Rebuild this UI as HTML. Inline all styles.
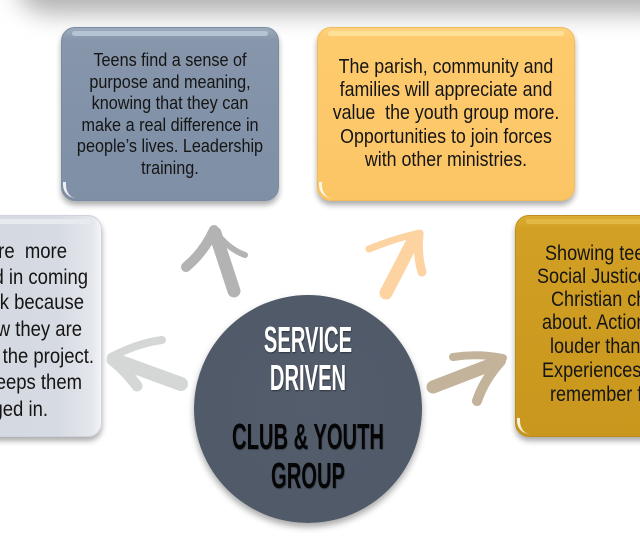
<!DOCTYPE html>
<html>
<head>
<meta charset="utf-8">
<style>
  html,body{margin:0;padding:0;}
  body{width:640px;height:540px;position:relative;overflow:hidden;background:#fff;font-family:"Liberation Sans",sans-serif;}
  .abs{position:absolute;}
  .box{position:absolute;border-radius:14px;box-shadow:0 4px 6px rgba(0,0,0,0.33);overflow:hidden;}
  .hl{position:absolute;height:5px;border-radius:3px;}
  .glint{position:absolute;width:10px;height:16px;border-left:3px solid rgba(255,255,255,0.85);border-radius:0 0 0 14px;}
  .ln{position:absolute;white-space:nowrap;color:#151515;}
  .c{text-align:center;transform-origin:50% 50%;}
  .r{text-align:right;transform-origin:100% 50%;}
  .l{text-align:left;transform-origin:0 50%;}
  .ct{position:absolute;left:108px;width:400px;text-align:center;white-space:nowrap;font-weight:bold;font-size:36px;line-height:40px;transform:scaleX(0.56);transform-origin:50% 50%;}
</style>
</head>
<body>

<!-- top shadow band -->
<div class="abs" style="left:16px;top:-52px;width:680px;height:66px;border-radius:34px;background:#b4b4b4;filter:blur(12px);"></div>

<!-- Box 1 (slate) -->
<div class="box" style="left:61px;top:27px;width:218px;height:174px;background:linear-gradient(to bottom,#9eacbe 0%,#8796ab 7%,#8292a8 50%,#7f8fa5 100%);border:1px solid #7a8aa0;box-sizing:border-box;">
  <div class="hl" style="left:10px;right:10px;top:3px;background:#b6c3d2;"></div>
  <div class="glint" style="left:1px;bottom:2px;"></div>
</div>

<!-- Box 2 (light orange) -->
<div class="box" style="left:317px;top:27px;width:258px;height:174px;background:linear-gradient(to bottom,#fed27f 0%,#fdca6c 7%,#fdc86a 60%,#fbc564 100%);border:1px solid #f2bb5c;box-sizing:border-box;">
  <div class="hl" style="left:10px;right:10px;top:3px;background:#ffe097;"></div>
  <div class="glint" style="left:1px;bottom:2px;"></div>
</div>

<!-- Left box (light gray) -->
<div class="box" style="left:-120px;top:215px;width:222px;height:222px;background:linear-gradient(to right,#d2d6df 0%,#d6dae2 80%,#e4e7ec 96%,#f3f4f6 100%);border:1px solid #cfd3db;box-sizing:border-box;">
  <div class="hl" style="left:10px;right:10px;top:3px;background:#e7eaef;"></div>
</div>

<!-- Right box (gold) -->
<div class="box" style="left:515px;top:215px;width:220px;height:222px;background:linear-gradient(to bottom,#dcad34 0%,#d1a024 6%,#cd9b20 50%,#c9971d 100%);border:1px solid #c08e18;box-sizing:border-box;">
  <div class="hl" style="left:10px;right:10px;top:3px;background:#e3b946;"></div>
  <div class="glint" style="left:1px;bottom:2px;"></div>
</div>

<!-- Box 1 text -->
<div style="font-size:18px;line-height:22px;">
  <div class="ln c" style="left:-30px;width:400px;top:49px;transform:scaleX(0.9);">Teens find a sense of</div>
  <div class="ln c" style="left:-30px;width:400px;top:70.5px;transform:scaleX(0.9);">purpose and meaning,</div>
  <div class="ln c" style="left:-30px;width:400px;top:92px;transform:scaleX(0.9);">knowing that they can</div>
  <div class="ln c" style="left:-30px;width:400px;top:113.5px;transform:scaleX(0.9);">make a real difference in</div>
  <div class="ln c" style="left:-30px;width:400px;top:135px;transform:scaleX(0.9);">people’s lives. Leadership</div>
  <div class="ln c" style="left:-30px;width:400px;top:156.5px;transform:scaleX(0.9);">training.</div>
</div>

<!-- Box 2 text -->
<div style="font-size:20px;line-height:24px;">
  <div class="ln c" style="left:246px;width:400px;top:55px;transform:scaleX(0.89);">The parish, community and</div>
  <div class="ln c" style="left:246px;width:400px;top:78px;transform:scaleX(0.89);">families will appreciate and</div>
  <div class="ln c" style="left:246px;width:400px;top:101px;transform:scaleX(0.89);">value&nbsp; the youth group more.</div>
  <div class="ln c" style="left:246px;width:400px;top:125px;transform:scaleX(0.89);">Opportunities to join forces</div>
  <div class="ln c" style="left:246px;width:400px;top:148px;transform:scaleX(0.89);">with other ministries.</div>
</div>

<!-- Left box text (clipped by viewport) -->
<div style="font-size:21px;line-height:26px;">
  <div class="ln r" style="left:-333px;width:400px;top:239px;transform:scaleX(0.88);">Teens are&nbsp; more</div>
  <div class="ln r" style="left:-312px;width:400px;top:265px;transform:scaleX(0.88);">involved in coming</div>
  <div class="ln r" style="left:-316px;width:400px;top:290px;transform:scaleX(0.88);">each week because</div>
  <div class="ln r" style="left:-318px;width:400px;top:317px;transform:scaleX(0.88);">they know they are</div>
  <div class="ln r" style="left:-306px;width:400px;top:344px;transform:scaleX(0.88);">part of the project.</div>
  <div class="ln r" style="left:-318px;width:400px;top:370px;transform:scaleX(0.88);">It keeps them</div>
  <div class="ln r" style="left:-352px;width:400px;top:397px;transform:scaleX(0.88);">engaged in.</div>
</div>

<!-- Right box text (clipped by viewport) -->
<div style="font-size:21px;line-height:24px;">
  <div class="ln l" style="left:545px;width:400px;top:242px;transform:scaleX(0.86);">Showing teens that</div>
  <div class="ln l" style="left:537px;width:400px;top:265px;transform:scaleX(0.86);">Social Justice is what</div>
  <div class="ln l" style="left:551px;width:400px;top:288px;transform:scaleX(0.86);">Christian charity is</div>
  <div class="ln l" style="left:542px;width:400px;top:311px;transform:scaleX(0.86);">about. Actions speak</div>
  <div class="ln l" style="left:550px;width:400px;top:335px;transform:scaleX(0.86);">louder than words.</div>
  <div class="ln l" style="left:542px;width:400px;top:359px;transform:scaleX(0.86);">Experiences they will</div>
  <div class="ln l" style="left:550px;width:400px;top:383px;transform:scaleX(0.86);">remember forever.</div>
</div>

<!-- Arrows -->
<svg class="abs" style="left:0;top:0;" width="640" height="540" viewBox="0 0 640 540">
  <g fill="none" stroke-linecap="round" stroke-linejoin="round">
    <!-- up gray -->
    <g stroke="#b3b3b3">
      <path d="M234,291 L215,233" stroke-width="13"/>
      <path d="M214,230 Q204,252 186,267" stroke-width="10"/>
      <path d="M214,230 Q228,249 245,255" stroke-width="6"/>
    </g>
    <!-- up-right peach -->
    <g stroke="#fdd3a1">
      <path d="M386,293 L413,241" stroke-width="13"/>
      <path d="M420,233 Q396,238 369,249" stroke-width="7"/>
      <path d="M419,235 Q417,255 422,272" stroke-width="9"/>
    </g>
    <!-- left light gray -->
    <g stroke="#d5d7d7">
      <path d="M181,384 L115,360" stroke-width="14"/>
      <path d="M111,357 Q138,343 162,340" stroke-width="8"/>
      <path d="M112,360 Q127,372 137,386" stroke-width="11"/>
    </g>
    <!-- right tan -->
    <g stroke="#c3b39b">
      <path d="M433,387 L498,362" stroke-width="13"/>
      <path d="M503,358 Q478,353 453,357" stroke-width="8"/>
      <path d="M501,361 Q484,380 477,401" stroke-width="10"/>
    </g>
  </g>
</svg>

<!-- Center circle -->
<div class="abs" style="left:194px;top:295px;width:228px;height:228px;border-radius:50%;box-shadow:0 4px 7px rgba(0,0,0,0.35);background:radial-gradient(circle at 50% 48%,#535d6c 0%,#4f5968 80%,#58626f 90%,#8b939e 95%,#c7ccd2 97.5%,#66707c 100%);"></div>

<!-- Circle text -->
<div class="ct" style="top:320px;color:#fff;text-shadow:1px 1px 2px rgba(0,0,0,0.45);">SERVICE</div>
<div class="ct" style="top:358px;color:#fff;text-shadow:1px 1px 2px rgba(0,0,0,0.45);">DRIVEN</div>
<div class="ct" style="top:417px;color:#050505;text-shadow:1px 1px 1px rgba(0,0,0,0.3);">CLUB &amp; YOUTH</div>
<div class="ct" style="top:456px;color:#050505;text-shadow:1px 1px 1px rgba(0,0,0,0.3);">GROUP</div>

</body>
</html>
